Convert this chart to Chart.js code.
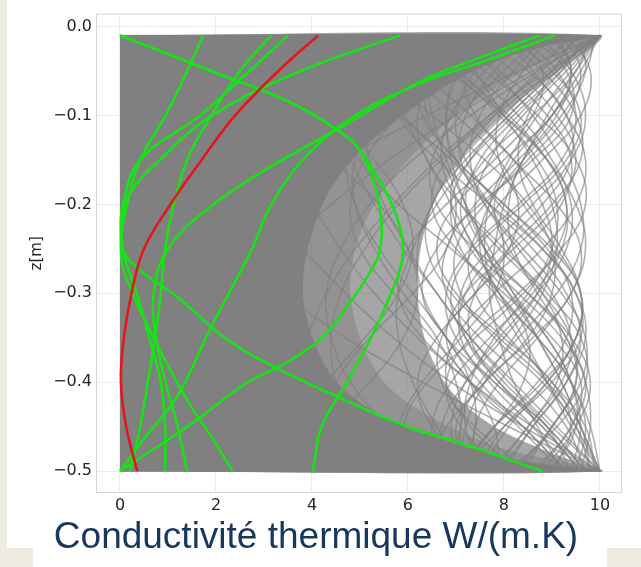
<!DOCTYPE html>
<html>
<head>
<meta charset="utf-8">
<script src="https://cdn.jsdelivr.net/npm/chart.js@4.4.0/dist/chart.umd.min.js"></script>
<style>
  body { margin: 0; width: 641px; height: 567px; background: #fff; position: relative; overflow: hidden; }
  .tan { position: absolute; background: #eeece1; }
  #grafico { position: absolute; left: 0; top: 0; }
  #titre { position: absolute; left: 0; width: 632px; top: 517px; text-align: center; font-family: "Liberation Sans", Arial, sans-serif; font-size: 37px; line-height: 37px; color: #17375e; white-space: nowrap; }
</style>
</head>
<body>
<div class="tan" style="left:0;top:0;width:7px;height:567px"></div>
<div class="tan" style="left:0;top:548px;width:33px;height:19px"></div>
<div class="tan" style="left:607px;top:548px;width:34px;height:19px"></div>
<canvas id="grafico" width="641" height="567"></canvas>
<div id="titre">Conductivité thermique W/(m.K)</div>
<script>
const zLevels = [-0.01, -0.05, -0.1, -0.15, -0.2, -0.25, -0.3, -0.35, -0.4, -0.45, -0.5]
const xTicks = [0, 2, 4, 6, 8, 10]
const zTicks = [0, -0.1, -0.2, -0.3, -0.4, -0.5]

// profil de reference (rouge), une valeur par niveau de zLevels
const rouge = [4.13, 3.3, 2.4, 1.7, 1.05, 0.5, 0.24, 0.08, 0.02, 0.13, 0.36]

// profils verts, points [k, z]
const vertA1 = [[0,-0.01],[1.9,-0.05],[3.54,-0.085],[4.52,-0.116],[4.94,-0.135],[5.48,-0.18],[5.83,-0.225],[5.88,-0.262],[5.65,-0.3],[5.23,-0.35],[4.73,-0.4],[4.2,-0.45],[4.02,-0.5]]
const vertA2 = [[0,-0.01],[1.9,-0.05],[3.54,-0.085],[4.52,-0.116],[4.94,-0.135],[5.2,-0.161],[5.42,-0.206],[5.42,-0.251],[5.2,-0.277],[4.73,-0.315],[4.17,-0.352],[3.33,-0.382],[2.66,-0.4],[1.4,-0.45],[0,-0.5]]
const vertB = [[1.73,-0.01],[1.4,-0.05],[0.95,-0.1],[0.42,-0.15],[0.15,-0.2],[0.03,-0.235],[0.1,-0.255],[0.48,-0.277],[1.19,-0.304],[2.23,-0.352],[3.3,-0.385],[4.52,-0.416],[5.98,-0.45],[7.08,-0.468],[8.8,-0.5]]
const vertC = [[3.15,-0.01],[2.5,-0.05],[1.9,-0.1],[1.4,-0.15],[1.12,-0.2],[0.94,-0.25],[0.85,-0.3],[0.73,-0.35],[0.58,-0.4],[0.42,-0.45],[0.21,-0.5]]
const vertE = [[3.5,-0.01],[2.7,-0.05],[1.67,-0.1],[0.42,-0.15],[0.06,-0.2],[0.02,-0.23],[0.1,-0.26],[0.35,-0.3],[0.62,-0.352],[0.85,-0.4],[0.94,-0.45],[0.94,-0.5]]
const vertF = [[5.83,-0.01],[3.77,-0.05],[1.92,-0.1],[0.83,-0.15],[0.21,-0.187],[0.05,-0.215],[0.02,-0.245],[0.08,-0.275],[0.7,-0.35],[1.4,-0.42],[1.95,-0.465],[2.35,-0.5]]
const vertR1 = [[8.75,-0.01],[7.5,-0.035],[6.25,-0.062],[4.52,-0.116],[3.125,-0.158],[1.875,-0.203],[1.0,-0.25],[0.7,-0.3],[0.75,-0.35],[0.95,-0.4],[1.2,-0.45],[1.4,-0.5]]
const vertR2 = [[9.06,-0.01],[7.7,-0.037],[6.25,-0.064],[4.85,-0.102],[3.81,-0.15],[3.125,-0.203],[2.75,-0.25],[1.88,-0.34],[1.19,-0.416],[0.48,-0.465],[0,-0.5]]

// zones ou les courbes grises se recouvrent : totale, tres dense, dense
const noyau = [[0,-0.01],[10,-0.01],[9,-0.02],[8,-0.035],[7,-0.06],[6,-0.095],[5,-0.14],[4.3,-0.19],[3.9,-0.25],[3.8,-0.3],[4.0,-0.35],[4.5,-0.4],[5.5,-0.44],[7.0,-0.47],[8.5,-0.49],[10,-0.5],[0,-0.5]]
const dense = [[0,-0.01],[10,-0.01],[9.2,-0.03],[8.1,-0.06],[7.0,-0.1],[6.0,-0.15],[5.3,-0.2],[4.9,-0.25],[4.8,-0.3],[5.0,-0.35],[5.5,-0.4],[6.5,-0.44],[8.0,-0.475],[10,-0.5],[0,-0.5]]
const nuage = [[0,-0.01],[10,-0.01],[9.4,-0.04],[8.4,-0.08],[7.4,-0.13],[6.7,-0.18],[6.3,-0.24],[6.2,-0.3],[6.4,-0.36],[6.9,-0.41],[7.8,-0.45],[9.0,-0.48],[10,-0.5],[0,-0.5]]

// echantillons gris, une valeur par niveau de zLevels
const gris = [
  [10, 8.6, 7.0, 5.6, 4.4, 3.4, 2.6, 2.0, 1.5, 1.1, 0.8],
  [10, 8.9, 7.7, 6.6, 5.7, 4.9, 4.3, 3.9, 3.6, 3.5, 3.5],
  [10, 9.2, 8.2, 7.3, 6.6, 6.1, 5.8, 5.8, 6.1, 6.6, 7.2],
  [10, 8.3, 6.4, 4.6, 3.1, 1.9, 1.0, 0.4, 0.1, 0.3, 0.7],
  [10, 9.4, 8.7, 8.1, 7.7, 7.6, 7.8, 8.3, 8.9, 9.5, 10],
  [10, 9.0, 8.0, 7.1, 6.5, 6.2, 6.3, 6.8, 7.5, 8.4, 9.3],
  [10, 9.0, 7.8, 6.7, 5.8, 5.1, 4.6, 4.4, 4.5, 4.9, 5.6],
  [10, 8.7, 7.3, 6.1, 5.2, 4.6, 4.3, 4.4, 4.8, 5.6, 6.6],
  [10, 9.5, 8.9, 8.4, 8.0, 7.8, 7.7, 7.9, 8.2, 8.7, 9.2],
  [0.8, 1.2, 1.7, 2.3, 3.0, 3.8, 4.7, 5.7, 6.9, 8.4, 10],
  [3.0, 3.0, 3.2, 3.5, 4.0, 4.6, 5.3, 6.2, 7.3, 8.6, 10],
  [5.5, 5.2, 5.1, 5.2, 5.5, 6.0, 6.6, 7.3, 8.2, 9.1, 10],
  [1.5, 1.0, 0.8, 1.0, 1.5, 2.3, 3.4, 4.7, 6.3, 8.1, 10],
  [7.5, 7.0, 6.8, 6.9, 7.2, 7.6, 8.1, 8.7, 9.2, 9.6, 10],
  [5.0, 5.4, 5.9, 6.4, 6.9, 7.4, 7.9, 8.4, 8.9, 9.4, 10],
  [6.5, 6.4, 6.5, 6.8, 7.2, 7.7, 8.2, 8.7, 9.2, 9.6, 10],
  [4.2, 4.2, 4.4, 4.8, 5.3, 5.9, 6.6, 7.3, 8.1, 9.0, 10],
  [9.0, 9.4, 9.0, 8.0, 7.0, 6.6, 7.0, 8.0, 9.0, 9.4, 9.0],
  [8.0, 9.0, 9.6, 9.3, 8.4, 7.4, 6.9, 7.2, 8.0, 8.9, 9.4],
  [6.5, 7.6, 8.7, 9.5, 9.7, 9.2, 8.3, 7.3, 6.8, 7.1, 8.0],
  [7.2, 6.5, 6.4, 7.0, 8.0, 9.0, 9.6, 9.5, 8.8, 7.8, 7.0],
  [9.6, 8.8, 7.7, 6.8, 6.5, 7.0, 8.0, 9.0, 9.6, 9.4, 8.6],
  [8.5, 9.3, 9.4, 8.6, 7.5, 6.6, 6.3, 6.8, 7.8, 8.9, 9.7],
  [5.5, 6.8, 8.0, 8.9, 9.3, 9.1, 8.4, 7.4, 6.4, 5.9, 6.0],
  [7.0, 8.2, 9.1, 9.5, 9.1, 8.2, 7.2, 6.8, 7.3, 8.3, 9.2],
  [9.8, 9.5, 8.6, 7.6, 7.1, 7.4, 8.3, 9.2, 9.7, 9.4, 8.7],
  [6.0, 5.6, 5.8, 6.6, 7.7, 8.8, 9.5, 9.6, 9.0, 8.0, 7.0],
  [8.8, 8.0, 7.1, 6.5, 6.6, 7.4, 8.5, 9.4, 9.8, 9.5, 8.8],
  [9.9, 9.7, 9.0, 8.2, 7.8, 8.1, 8.9, 9.6, 9.7, 9.1, 8.1],
  [4.5, 5.4, 6.5, 7.6, 8.5, 9.0, 9.0, 8.5, 7.6, 6.8, 6.4],
  [7.8, 7.2, 7.4, 8.2, 9.1, 9.6, 9.4, 8.6, 7.6, 7.0, 7.3],
  [9.3, 9.8, 9.6, 8.8, 7.9, 7.3, 7.4, 8.1, 9.0, 9.7, 9.9],
  [5.0, 5.9, 7.0, 7.9, 8.3, 8.1, 7.4, 6.6, 6.2, 6.5, 7.4],
  [6.2, 5.3, 4.8, 5.0, 5.8, 6.9, 7.9, 8.5, 8.4, 7.8, 7.0],
  [8.2, 8.8, 8.6, 7.8, 6.8, 6.0, 5.8, 6.3, 7.3, 8.4, 9.3],
  [3.5, 4.6, 5.8, 6.9, 7.7, 8.0, 7.8, 7.1, 6.3, 5.8, 5.8],
  [9.5, 9.0, 8.1, 7.2, 6.5, 6.4, 6.9, 7.9, 8.9, 9.6, 9.8],
  [2.5, 3.4, 4.4, 5.3, 5.9, 6.1, 5.8, 5.1, 4.3, 3.7, 3.4],
  [6.8, 6.0, 5.3, 4.9, 4.9, 5.3, 5.9, 6.6, 7.0, 7.1, 6.8],
  [4.0, 4.9, 5.9, 6.7, 7.0, 6.8, 6.1, 5.2, 4.5, 4.2, 4.4],
  [7.5, 6.7, 5.8, 5.1, 4.8, 5.0, 5.7, 6.5, 7.3, 7.8, 7.9],
  [1.0, 2.0, 3.2, 4.4, 5.4, 6.0, 6.2, 5.9, 5.2, 4.3, 3.5],
  [5.8, 5.3, 4.9, 4.7, 4.9, 5.4, 6.1, 6.8, 7.3, 7.4, 7.1],
  [9.7, 9.2, 8.3, 7.5, 7.2, 7.6, 8.5, 9.3, 9.5, 9.0, 8.2],
  [8.0, 8.6, 9.3, 9.7, 9.5, 8.8, 7.8, 7.0, 6.8, 7.3, 8.3],
  [6.8, 7.9, 8.9, 9.4, 9.2, 8.4, 7.4, 6.7, 6.7, 7.4, 8.5],
  [9.0, 8.4, 7.9, 7.9, 8.4, 9.1, 9.6, 9.5, 8.9, 8.0, 7.4],
  [7.4, 8.5, 9.3, 9.4, 8.8, 7.9, 7.2, 7.1, 7.7, 8.6, 9.4],
  [8.6, 7.8, 7.2, 7.1, 7.6, 8.4, 9.2, 9.7, 9.6, 9.0, 8.4],
  [9.2, 9.6, 9.3, 8.5, 7.6, 7.0, 7.1, 7.8, 8.8, 9.5, 9.8],
  [6.3, 7.3, 8.3, 9.0, 9.4, 9.3, 8.7, 7.9, 7.2, 6.9, 7.1],
  [7.7, 7.1, 6.8, 7.0, 7.7, 8.6, 9.3, 9.6, 9.3, 8.6, 7.9],
  [9.4, 8.7, 7.8, 7.1, 6.9, 7.3, 8.1, 8.9, 9.4, 9.5, 9.0],
  [8.3, 9.1, 9.5, 9.2, 8.3, 7.3, 6.8, 7.0, 7.8, 8.8, 9.6],
  [5.8, 6.9, 7.9, 8.7, 9.1, 9.0, 8.5, 7.8, 7.3, 7.2, 7.6],
  [10, 9.6, 9.0, 8.4, 8.1, 8.2, 8.7, 9.3, 9.7, 9.8, 9.6],
  [7.1, 7.8, 8.6, 9.2, 9.6, 9.6, 9.1, 8.3, 7.5, 7.1, 7.2],
  [8.9, 8.2, 7.5, 7.3, 7.6, 8.3, 9.0, 9.4, 9.2, 8.5, 7.8],
  [6.6, 6.2, 6.3, 7.0, 8.0, 8.9, 9.4, 9.3, 8.7, 7.8, 7.1],
  [9.5, 9.7, 9.2, 8.4, 7.7, 7.5, 7.9, 8.7, 9.4, 9.7, 9.5],
  [7.9, 8.8, 9.5, 9.6, 9.0, 8.1, 7.4, 7.3, 7.9, 8.8, 9.6],
  [8.4, 7.6, 6.9, 6.7, 7.1, 7.9, 8.8, 9.4, 9.5, 9.0, 8.3],
  [6.0, 7.0, 8.1, 8.9, 9.3, 9.2, 8.6, 7.7, 6.9, 6.5, 6.7],
  [9.1, 9.4, 9.1, 8.3, 7.4, 6.8, 6.8, 7.5, 8.5, 9.3, 9.7],
  [7.3, 6.6, 6.2, 6.4, 7.1, 8.0, 8.8, 9.2, 9.1, 8.5, 7.7],
  [10, 9.3, 8.4, 7.7, 7.4, 7.6, 8.2, 8.9, 9.4, 9.6, 9.4],
  [5.2, 6.2, 7.3, 8.2, 8.8, 9.0, 8.7, 8.0, 7.2, 6.7, 6.8],
  [8.7, 9.4, 9.7, 9.4, 8.6, 7.7, 7.1, 7.2, 7.9, 8.9, 9.7],
  [9.9, 9.1, 8.1, 7.3, 6.9, 7.1, 7.8, 8.7, 9.4, 9.8, 10],
  [7.0, 7.4, 8.0, 8.6, 9.0, 9.1, 8.8, 8.2, 7.6, 7.2, 7.1],
  [6.4, 7.1, 8.0, 8.9, 9.5, 9.7, 9.4, 8.7, 7.9, 7.4, 7.4],
  [10, 9.1, 8.5, 8.3, 8.6, 9.2, 9.6, 9.5, 8.9, 8.1, 7.5],
  [8.1, 7.4, 7.0, 7.2, 7.9, 8.8, 9.5, 9.7, 9.3, 8.6, 8.0]
]

const verts = [vertA1, vertA2, vertB, vertC, vertE, vertF, vertR1, vertR2]

const surNiveaux = xs => xs.map((x, i) => ({ x: x, y: zLevels[i] }))
const enPoints = arr => arr.map(p => ({ x: p[0], y: p[1] }))

const datasets = []

datasets.push({ data: surNiveaux(rouge), borderColor: '#e3161b', borderWidth: 2.6, tension: 0.4, order: 0 })

verts.forEach(v => {
  datasets.push({ data: enPoints(v), borderColor: '#17e317', borderWidth: 2.6, tension: 0.4, order: 1 })
})

datasets.push({ data: enPoints(noyau), fill: 'shape', backgroundColor: '#808080', borderColor: '#808080', borderWidth: 1, tension: 0.3, order: 2 })

gris.forEach(g => {
  datasets.push({ data: surNiveaux(g), borderColor: 'rgba(128,128,128,0.62)', borderWidth: 1.6, tension: 0.4, order: 3 })
})

datasets.push({ data: enPoints(dense), fill: 'shape', backgroundColor: 'rgba(128,128,128,0.5)', borderWidth: 0, tension: 0.3, order: 4 })
datasets.push({ data: enPoints(nuage), fill: 'shape', backgroundColor: 'rgba(128,128,128,0.7)', borderWidth: 0, tension: 0.3, order: 5 })

const cadre = {
  id: 'cadre',
  afterDatasetsDraw(chart) {
    const { ctx, chartArea } = chart
    ctx.save()
    ctx.strokeStyle = '#d6d6d6'
    ctx.lineWidth = 1
    ctx.strokeRect(chartArea.left + 0.5, chartArea.top + 0.5, chartArea.right - chartArea.left - 1, chartArea.bottom - chartArea.top - 1)
    ctx.restore()
  }
}

const grafico = document.getElementById('grafico').getContext('2d')
const tickFont = { family: 'DejaVu Sans', size: 16 }

new Chart(grafico, {
  type: 'scatter',
  data: { datasets: datasets },
  plugins: [cadre],
  options: {
    responsive: false,
    animation: false,
    devicePixelRatio: 1,
    showLine: true,
    elements: { point: { radius: 0, hoverRadius: 0 } },
    layout: { padding: { top: 13, right: 19, left: 0, bottom: 0 } },
    plugins: { legend: { display: false }, tooltip: { enabled: false } },
    scales: {
      x: {
        type: 'linear',
        min: -0.5,
        max: 10.46,
        afterBuildTicks: s => { s.ticks = xTicks.map(v => ({ value: v })) },
        afterFit: s => { s.height = 74 },
        grid: { color: '#ebebeb', drawTicks: false },
        border: { display: false },
        ticks: { padding: 3, font: tickFont, color: '#262626', maxRotation: 0, autoSkip: false }
      },
      y: {
        type: 'linear',
        min: -0.5245,
        max: 0.0145,
        afterBuildTicks: s => { s.ticks = zTicks.map(v => ({ value: v })) },
        afterFit: s => { s.width = 96 },
        grid: { color: '#ebebeb', drawTicks: false },
        border: { display: false },
        ticks: {
          padding: 4,
          font: tickFont,
          color: '#262626',
          autoSkip: false,
          callback: v => v === 0 ? '0.0' : '\u2212' + Math.abs(v).toFixed(1)
        },
        title: { display: true, text: 'z[m]', font: { family: 'DejaVu Sans', size: 15 }, color: '#262626', padding: { top: 28, bottom: 0 } }
      }
    }
  }
})
</script>
</body>
</html>
